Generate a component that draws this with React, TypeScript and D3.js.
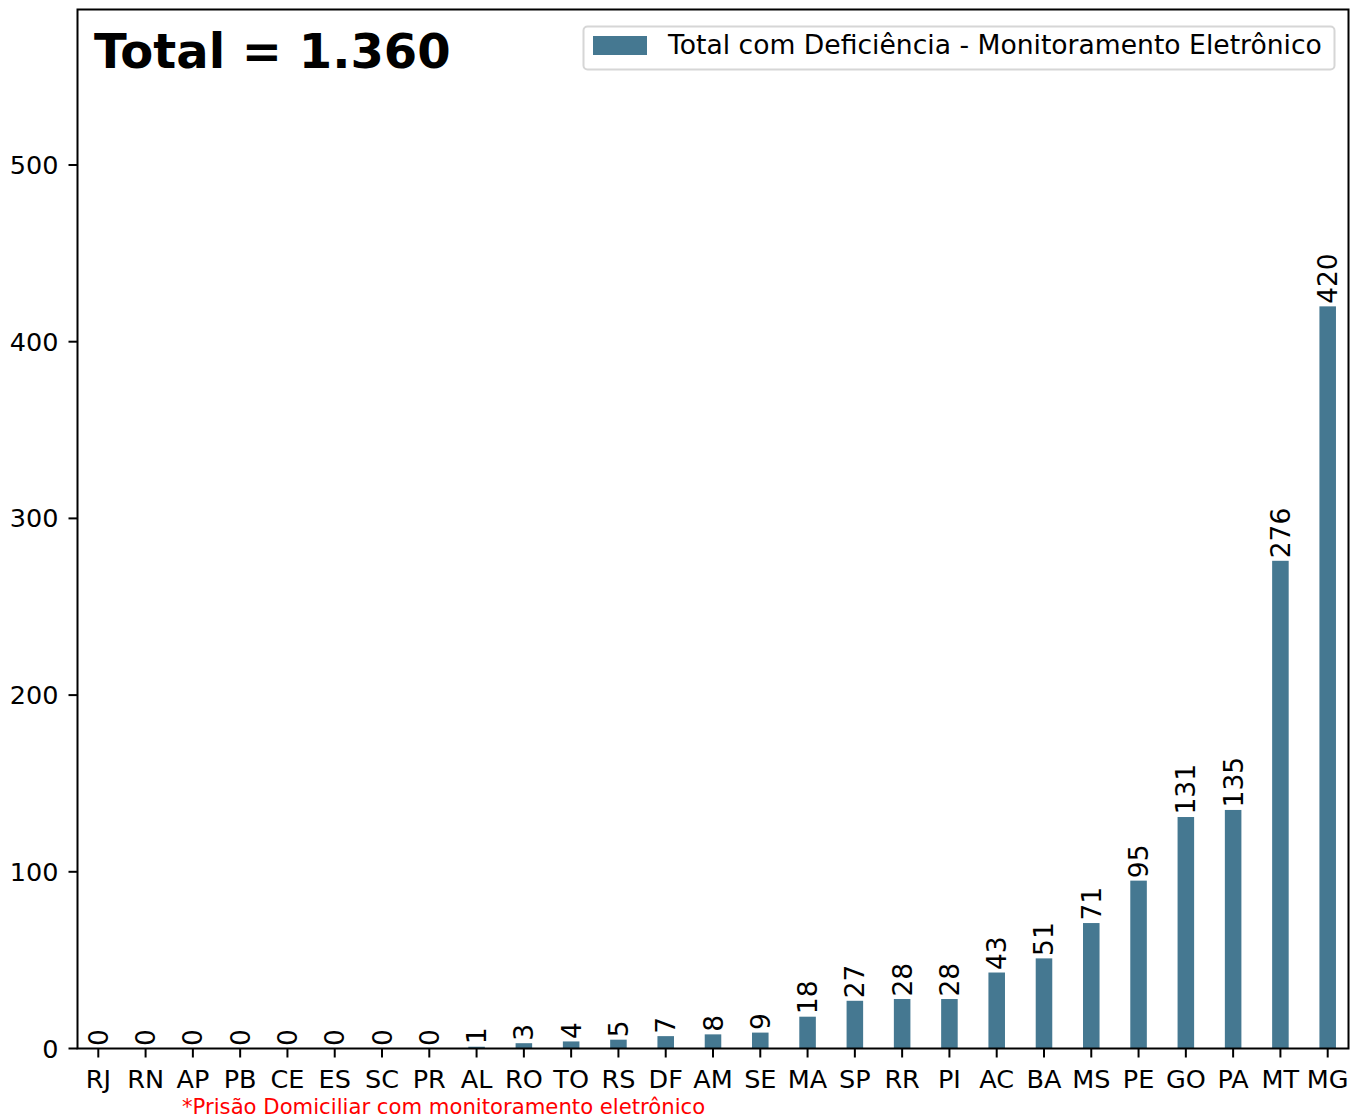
import React from "react";
import * as d3 from "d3";

const categories = ["RJ","RN","AP","PB","CE","ES","SC","PR","AL","RO","TO","RS","DF","AM","SE","MA","SP","RR","PI","AC","BA","MS","PE","GO","PA","MT","MG"];
const values = [0,0,0,0,0,0,0,0,1,3,4,5,7,8,9,18,27,28,28,43,51,71,95,131,135,276,420];
const yTicks = [0,100,200,300,400,500];
const legendLabel = "Total com Deficiência - Monitoramento Eletrônico";
const titleText = "Total = 1.360";
const footnote = "*Prisão Domiciliar com monitoramento eletrônico";

const W = 1359, H = 1118;
const left = 77.5, right = 1348.5, top = 9.5, bottom = 1048.5;
const barColor = "#457891";
const font = "DejaVu Sans, sans-serif";

export default function App() {
  const x = d3.scaleLinear().domain([-0.44, categories.length - 1 + 0.44]).range([left, right]);
  const y = d3.scaleLinear().domain([0, 588]).range([bottom, top]);
  const bw = x(0.35) - x(0);
  return (
    <svg width={W} height={H} style={{ position: "absolute", left: 0, top: 0, background: "#fff" }} fontFamily={font}>
      <rect x={0} y={0} width={W} height={H} fill="#fff" />
      {values.map((v, i) => (
        <rect key={i} x={x(i) - bw / 2} y={y(v)} width={bw} height={y(0) - y(v)} fill={barColor} />
      ))}
      {values.map((v, i) => (
        <text key={"l" + i} transform={`translate(${x(i)},${y(v) - 2.5}) rotate(-90)`} fontSize={26.5} textAnchor="start" dominantBaseline="central" fill="#000">{v}</text>
      ))}
      <rect x={left} y={top} width={right - left} height={bottom - top} fill="none" stroke="#000" strokeWidth={2} />
      {yTicks.map((t) => (
        <g key={t}>
          <line x1={left - 9} x2={left} y1={y(t)} y2={y(t)} stroke="#000" strokeWidth={2} />
          <text x={left - 19} y={y(t)} textAnchor="end" dominantBaseline="central" fontSize={25.5}>{t}</text>
        </g>
      ))}
      {categories.map((c, i) => (
        <g key={c}>
          <line x1={x(i)} x2={x(i)} y1={bottom} y2={bottom + 9} stroke="#000" strokeWidth={2} />
          <text x={x(i)} y={bottom + 39} textAnchor="middle" fontSize={25.5}>{c}</text>
        </g>
      ))}
      <text x={94} y={68} fontSize={48} fontWeight="bold">{titleText}</text>
      <rect x={583.5} y={26.5} width={751} height={43} rx={4} fill="#fff" stroke="#d6d6d6" strokeWidth={2} />
      <rect x={593} y={36} width={54} height={19} fill={barColor} />
      <text x={668} y={54} fontSize={26.6}>{legendLabel}</text>
      <text x={182} y={1114} fontSize={21.2} fill="red">{footnote}</text>
    </svg>
  );
}
